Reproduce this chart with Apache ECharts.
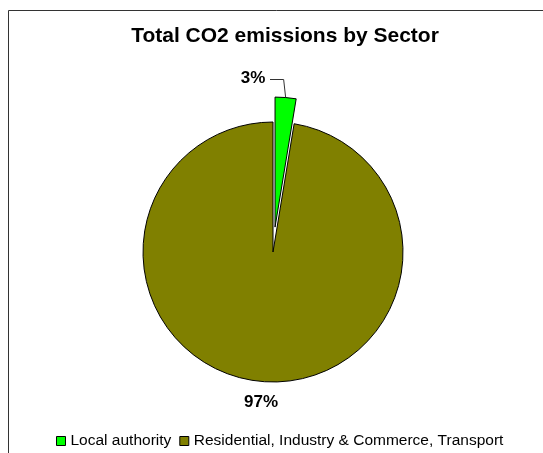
<!DOCTYPE html>
<html>
<head>
<meta charset="utf-8">
<script src="https://cdn.jsdelivr.net/npm/echarts@6/dist/echarts.min.js"></script>
<style>
  html, body { margin: 0; padding: 0; background: #fff; }
  #chart { width: 543px; height: 453px; }
</style>
</head>
<body>
<div id="chart"></div>
<script>
// Sector shares of total CO2 emissions (percent)
const sectors = ['Local authority', 'Residential, Industry & Commerce, Transport'];
const shares = [2.6, 97.4];
const sectorColors = ['#00FF00', '#808000'];

const chart = echarts.init(document.getElementById('chart'), null, { renderer: 'canvas' });

const CX = 273, CY = 252, R = 130, EXPLODE = 25;
const total = shares.reduce((a, b) => a + b, 0);
const pct = v => Math.round(v / total * 100) + '%';

// Outer tip of the pulled-out first slice, where its leader line starts
function explodedTip() {
  const mid = (90 - (shares[0] / total) * 180) * Math.PI / 180;
  return [CX + (R + EXPLODE) * Math.cos(mid), CY - (R + EXPLODE) * Math.sin(mid)];
}
const tip = explodedTip();

const labelFont = {
  fontFamily: 'Liberation Sans, Arial, sans-serif',
  fontWeight: 'bold',
  fontSize: 17,
  fill: '#000'
};

chart.setOption({
  animation: false,
  backgroundColor: '#ffffff',
  title: {
    text: 'Total CO2 emissions by Sector',
    left: 280,
    textAlign: 'center',
    top: 21,
    textStyle: {
      fontFamily: 'Liberation Sans, Arial, sans-serif',
      fontWeight: 'bold',
      fontSize: 21,
      color: '#000'
    }
  },
  legend: {
    data: sectors,
    left: 51,
    top: 428,
    itemWidth: 9,
    itemHeight: 9,
    itemGap: 8,
    icon: 'rect',
    selectedMode: false,
    itemStyle: { borderColor: '#000', borderWidth: 1 },
    textStyle: {
      fontFamily: 'Liberation Sans, Arial, sans-serif',
      fontSize: 15.5,
      color: '#000'
    }
  },
  graphic: [
    {
      type: 'rect',
      silent: true,
      shape: { x: 8.5, y: 10.5, width: 700, height: 600 },
      style: { fill: 'none', stroke: '#333', lineWidth: 1 }
    },
    // leader line from the pulled-out slice to its percentage
    {
      type: 'polyline',
      silent: true,
      shape: { points: [tip, [tip[0] - 2, 79.5], [270, 79.5]] },
      style: { fill: 'none', stroke: '#333', lineWidth: 1 }
    },
    {
      type: 'text',
      silent: true,
      x: 253, y: 78,
      style: Object.assign({ text: pct(shares[0]), align: 'center', verticalAlign: 'middle' }, labelFont)
    },
    {
      type: 'text',
      silent: true,
      x: 261, y: 402,
      style: Object.assign({ text: pct(shares[1]), align: 'center', verticalAlign: 'middle' }, labelFont)
    }
  ],
  series: [{
    type: 'pie',
    center: [CX, CY],
    radius: R,
    startAngle: 90,
    clockwise: true,
    selectedMode: 'single',
    selectedOffset: EXPLODE,
    emphasis: { disabled: true },
    itemStyle: { borderColor: '#000', borderWidth: 1 },
    label: { show: false },
    labelLine: { show: false },
    data: sectors.map((name, i) => ({
      name: name,
      value: shares[i],
      selected: i === 0,
      itemStyle: { color: sectorColors[i] }
    }))
  }]
});
</script>
</body>
</html>
